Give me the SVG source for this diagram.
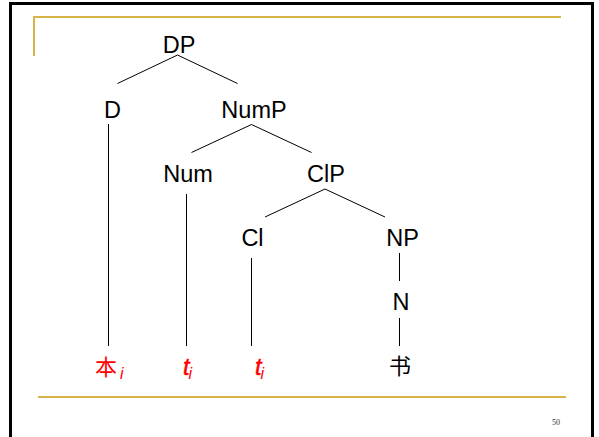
<svg xmlns="http://www.w3.org/2000/svg" width="599" height="437" viewBox="0 0 599 437">
<style>
.lbl{font-family:"Liberation Sans",Arial,sans-serif;font-size:23.5px;fill:#000;text-anchor:middle}
.ln{stroke:#000;stroke-width:1;fill:none}
.gold{stroke:#D9B44A;stroke-width:2;fill:none}
.red{fill:#FF0000}
.cjk{font-family:"Noto Sans CJK SC","Liberation Sans",sans-serif;font-size:22px}
.it{font-family:"Liberation Sans",Arial,sans-serif;font-style:italic;font-size:23.5px;stroke:#FF0000;stroke-width:0.5}
.sub{font-family:"Liberation Sans",Arial,sans-serif;font-style:italic;font-size:16px}
</style>
<rect x="0" y="0" width="599" height="437" fill="#fff"/>
<rect x="10.5" y="3.5" width="582" height="440" fill="none" stroke="#000" stroke-width="3"/>
<path class="gold" d="M34 56 V17 H561"/>
<path class="gold" d="M38 397 H566"/>
<g id="connectors">
<line class="ln" x1="177.5" y1="55" x2="117.5" y2="83.5"/>
<line class="ln" x1="177.5" y1="55" x2="237.5" y2="83.5"/>
<line class="ln" x1="108.5" y1="124" x2="108.5" y2="346"/>
<line class="ln" x1="251.5" y1="124.5" x2="191.5" y2="152.5"/>
<line class="ln" x1="251.5" y1="124.5" x2="311.5" y2="152.5"/>
<line class="ln" x1="186.5" y1="194" x2="186.5" y2="346"/>
<line class="ln" x1="325" y1="189" x2="265" y2="217"/>
<line class="ln" x1="325" y1="189" x2="385" y2="217"/>
<line class="ln" x1="251.5" y1="258" x2="251.5" y2="346"/>
<line class="ln" x1="399.5" y1="253" x2="399.5" y2="281"/>
<line class="ln" x1="399.5" y1="318" x2="399.5" y2="346"/>
</g>
<g id="DP"><text class="lbl" x="179" y="52.5">DP</text></g>
<g id="D"><text class="lbl" x="112.5" y="117.5">D</text></g>
<g id="NumP"><text class="lbl" x="254" y="117.5">NumP</text></g>
<g id="Num"><text class="lbl" x="188" y="182">Num</text></g>
<g id="ClP"><text class="lbl" x="326" y="182">ClP</text></g>
<g id="Cl"><text class="lbl" x="252.5" y="245.5">Cl</text></g>
<g id="NP"><text class="lbl" x="402.5" y="245.5">NP</text></g>
<g id="N"><text class="lbl" x="401" y="309.5">N</text></g>
<g id="ben"><text class="red" x="95" y="375"><tspan class="cjk">本</tspan><tspan class="sub" dx="3" dy="4">i</tspan></text></g>
<g id="t1"><text class="red" x="183" y="375"><tspan class="it">t</tspan><tspan class="sub" dx="-1" dy="4">i</tspan></text></g>
<g id="t2"><text class="red" x="255" y="375"><tspan class="it">t</tspan><tspan class="sub" dx="-1" dy="4">i</tspan></text></g>
<g id="shu"><text class="cjk" x="389" y="374" fill="#000">书</text></g>
<text x="556" y="425" font-family="Liberation Serif,serif" font-size="8" text-anchor="middle" fill="#333">50</text>
</svg>
